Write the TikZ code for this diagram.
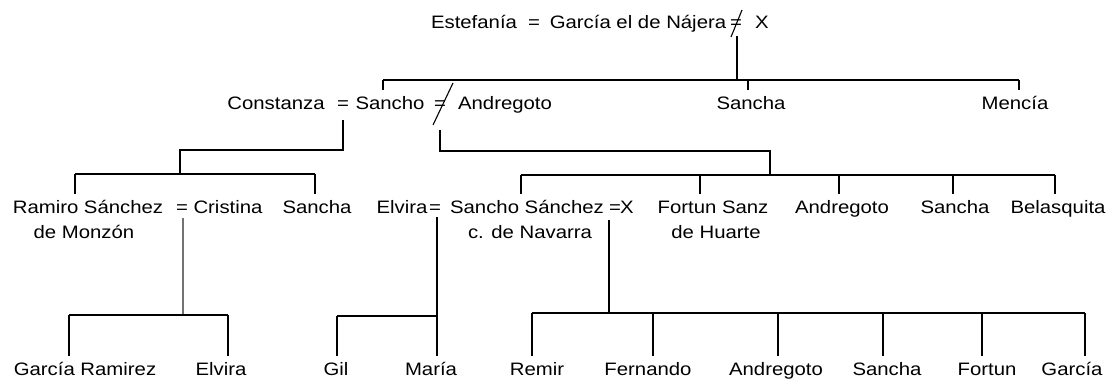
\documentclass[tikz,border=0pt]{standalone}
\usepackage{fontspec}
\setmainfont{Liberation Sans}[FakeStretch=1.13]
\begin{document}
\begin{tikzpicture}[x=1pt,y=-1pt,
  txt/.style={anchor=base, inner xsep=0pt, inner ysep=6pt, text height=13pt, text depth=4pt, font=\fontsize{18}{20}\selectfont},
  ln/.style={line width=1.1pt, black},
  faint/.style={line width=1.1pt, black!55}]
\useasboundingbox (0,0) rectangle (1119,384);
% ---------- row 1
\node[txt] (est) at (474,28) {Estefanía};
\node[txt] (eqA) at (534,28) {=};
\node[txt] (garcia) at (638,28) {García el de Nájera};
\node[txt] (neA) at (736,28) {=};
\node[txt] (xA) at (762,28) {X};
\draw[ln] ([shift={(6,-18)}]neA.base) -- ([shift={(-5,9)}]neA.base);
% ---------- row 2
\node[txt] (constanza) at (276,109) {Constanza};
\node[txt] (eqB) at (343,109) {=};
\node[txt] (sancho) at (390,109) {Sancho};
\node[txt] (neB) at (440,109) {=};
\node[txt] (andregoto) at (505,109) {Andregoto};
\node[txt] (sanchaA) at (751,109) {Sancha};
\node[txt] (mencia) at (1015,109) {Mencía};
\draw[ln] ([shift={(13,-26)}]neB.base) -- ([shift={(-7,16)}]neB.base);
% ---------- row 3
\node[txt] (ramiro) at (88,213) {Ramiro Sánchez};
\node[txt] (monzon) at (84,238) {de Monzón};
\node[txt] (eqC) at (182,213) {=};
\node[txt] (cristina) at (228,213) {Cristina};
\node[txt] (sanchaB) at (317,213) {Sancha};
\node[txt] (elvira) at (402,213) {Elvira};
\node[txt] (eqD) at (435,213) {=};
\node[txt] (sanchoS) at (527,213) {Sancho Sánchez};
\node[txt] (navarra) at (530,238) {c. de Navarra};
\node[txt] (eqE) at (615,213) {=};
\node[txt] (xB) at (627,213) {X};
\node[txt] (fortun) at (713,213) {Fortun Sanz};
\node[txt] (huarte) at (716,238) {de Huarte};
\node[txt] (andregotoB) at (842,213) {Andregoto};
\node[txt] (sanchaC) at (955,213) {Sancha};
\node[txt] (belasquita) at (1058,213) {Belasquita};
% ---------- row 4
\node[txt] (garciaR) at (85,375) {García Ramirez};
\node[txt] (elviraB) at (221,375) {Elvira};
\node[txt] (gil) at (336,375) {Gil};
\node[txt] (maria) at (431,375) {María};
\node[txt] (remir) at (537,375) {Remir};
\node[txt] (fernando) at (648,375) {Fernando};
\node[txt] (andregotoC) at (776,375) {Andregoto};
\node[txt] (sanchaD) at (887,375) {Sancha};
\node[txt] (fortunB) at (987,375) {Fortun};
\node[txt] (garciaB) at (1072,375) {García};
% ---------- connectors: García el de Nájera ≠ X
\coordinate (jA) at (737,80);
\coordinate (busAl) at (383,80);
\coordinate (busAm) at (748,80);
\coordinate (busAr) at (1019,80);
\draw[ln] ([shift={(1,8)}]neA.base) -- (jA);
\draw[ln] (busAl) -- (busAr);
\draw[ln] (busAl) -- (busAl |- sancho.north);
\draw[ln] (busAm) -- (busAm |- sanchaA.north);
\draw[ln] (busAr) -- (busAr |- mencia.north);
% ---------- Constanza = Sancho
\coordinate (jB1) at (343,150);
\coordinate (jB2) at (180,150);
\coordinate (jB3) at (180,174);
\coordinate (busBl) at (75,174);
\coordinate (busBr) at (315,174);
\draw[ln] ([shift={(0,11)}]eqB.base) -- (jB1) -- (jB2) -- (jB3);
\draw[ln] (busBl) -- (busBr);
\draw[ln] (busBl) -- (busBl |- ramiro.north);
\draw[ln] (busBr) -- (busBr |- sanchaB.north);
% ---------- Sancho ≠ Andregoto
\coordinate (jC1) at (440,151);
\coordinate (jC2) at (770,151);
\coordinate (jC3) at (770,175);
\coordinate (busCa) at (521,175);
\coordinate (busCb) at (700,175);
\coordinate (busCc) at (839,175);
\coordinate (busCd) at (953,175);
\coordinate (busCe) at (1055,175);
\draw[ln] ([shift={(0,21)}]neB.base) -- (jC1) -- (jC2) -- (jC3);
\draw[ln] (busCa) -- (busCe);
\draw[ln] (busCa) -- (busCa |- sanchoS.north);
\draw[ln] (busCb) -- (busCb |- fortun.north);
\draw[ln] (busCc) -- (busCc |- andregotoB.north);
\draw[ln] (busCd) -- (busCd |- sanchaC.north);
\draw[ln] (busCe) -- (busCe |- belasquita.north);
% ---------- Ramiro Sánchez = Cristina
\coordinate (jD) at (183,315);
\coordinate (busDl) at (69,315);
\coordinate (busDr) at (228,315);
\draw[faint] ([shift={(1,5)}]eqC.base) -- (jD);
\draw[ln] (busDl) -- (busDr);
\draw[ln] (busDl) -- (busDl |- garciaR.north);
\draw[ln] (busDr) -- (busDr |- elviraB.north);
% ---------- Elvira = Sancho Sánchez
\coordinate (jE0) at (437,217);
\coordinate (jE) at (437,316);
\coordinate (busEl) at (337,316);
\draw[ln] (jE0) -- (jE0 |- maria.north);
\draw[ln] (jE) -- (busEl);
\draw[ln] (busEl) -- (busEl |- gil.north);
% ---------- Sancho Sánchez = X
\coordinate (jF0) at (609,220);
\coordinate (jF) at (609,313);
\coordinate (busFa) at (532,313);
\coordinate (busFb) at (653,313);
\coordinate (busFc) at (778,313);
\coordinate (busFd) at (883,313);
\coordinate (busFe) at (982,313);
\coordinate (busFf) at (1085,313);
\draw[ln] (jF0) -- (jF);
\draw[ln] (busFa) -- (busFf);
\draw[ln] (busFa) -- (busFa |- remir.north);
\draw[ln] (busFb) -- (busFb |- fernando.north);
\draw[ln] (busFc) -- (busFc |- andregotoC.north);
\draw[ln] (busFd) -- (busFd |- sanchaD.north);
\draw[ln] (busFe) -- (busFe |- fortunB.north);
\draw[ln] (busFf) -- (busFf |- garciaB.north);
\end{tikzpicture}
\end{document}
